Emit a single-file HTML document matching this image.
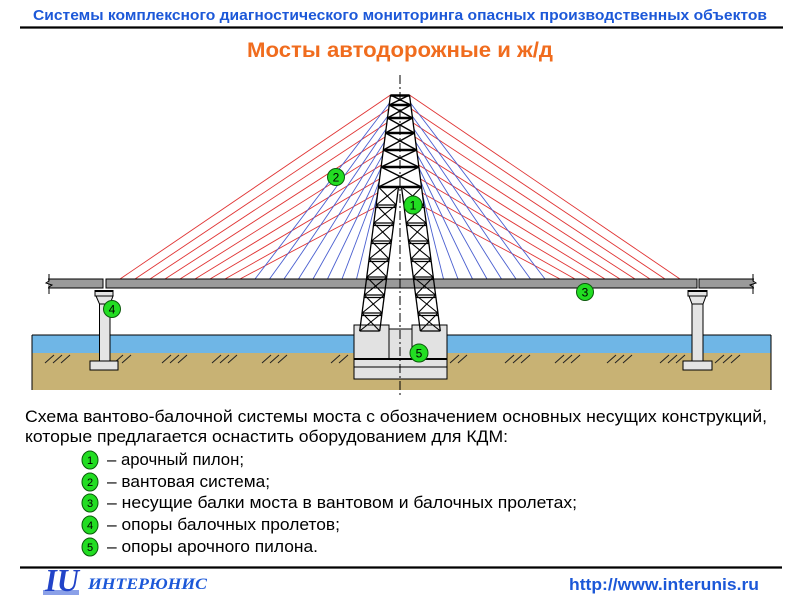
<!DOCTYPE html>
<html><head><meta charset="utf-8"><style>
html,body{margin:0;padding:0;background:#fff;width:800px;height:600px;overflow:hidden}
svg{display:block}
</style></head><body>
<svg width="800" height="600" viewBox="0 0 800 600" xmlns="http://www.w3.org/2000/svg">
<!-- header -->
<text x="33" y="20" font-family="Liberation Sans, sans-serif" font-weight="bold" font-size="14.5" fill="#1c58d8" textLength="734" lengthAdjust="spacingAndGlyphs">Системы комплексного диагностического мониторинга опасных производственных объектов</text>
<line x1="20" y1="27.5" x2="783" y2="27.5" stroke="#000" stroke-width="2.2"/>
<text x="247" y="57" font-family="Liberation Sans, sans-serif" font-weight="bold" font-size="21" fill="#f06c1e" textLength="306" lengthAdjust="spacingAndGlyphs">Мосты автодорожные и ж/д</text>

<!-- water & ground -->
<rect x="32" y="335" width="739" height="18" fill="#6fb6e6"/>
<rect x="32" y="353" width="739" height="37" fill="#c8b274"/>
<line x1="32" y1="335" x2="771" y2="335" stroke="#000" stroke-width="1"/>
<line x1="32" y1="335" x2="32" y2="390" stroke="#000" stroke-width="1"/>
<line x1="771" y1="335" x2="771" y2="390" stroke="#000" stroke-width="1"/>
<g stroke="#222" stroke-width="1">
<path d="M45,363 L54,355 M53,363 L62,355 M61,363 L70,355"/>
<path d="M114,363 L123,355 M122,363 L131,355"/>
<path d="M162,363 L171,355 M170,363 L179,355 M178,363 L187,355"/>
<path d="M212,363 L221,355 M220,363 L229,355 M228,363 L237,355"/>
<path d="M262,363 L271,355 M270,363 L279,355 M278,363 L287,355"/>
<path d="M331,363 L340,355 M339,363 L348,355"/>
<path d="M450,363 L459,355 M458,363 L467,355"/>
<path d="M505,363 L514,355 M513,363 L522,355 M521,363 L530,355"/>
<path d="M555,363 L564,355 M563,363 L572,355 M571,363 L580,355"/>
<path d="M607,363 L616,355 M615,363 L624,355 M623,363 L632,355"/>
<path d="M660,363 L669,355 M668,363 L677,355 M676,363 L685,355"/>
<path d="M715,363 L724,355 M723,363 L732,355 M731,363 L740,355"/>
</g>

<!-- foundation -->
<g fill="#e2e2e2" stroke="#000" stroke-width="1">
<rect x="354" y="359" width="93" height="20"/>
<rect x="354" y="325" width="35" height="34"/>
<rect x="412" y="325" width="35" height="34"/>
<rect x="389" y="329" width="23" height="30"/>
</g>
<line x1="354" y1="359" x2="447" y2="359" stroke="#000" stroke-width="2"/>
<line x1="354" y1="367" x2="447" y2="367" stroke="#000" stroke-width="1"/>

<!-- piers -->
<g fill="#e4e4e4" stroke="#000" stroke-width="1">
<rect x="90" y="361" width="28" height="9"/>
<rect x="99.5" y="304" width="10.5" height="57"/>
<path d="M96,296 L113,296 L110,304 L99.5,304 Z"/>
<rect x="95" y="290.5" width="18" height="5.5"/>
<rect x="683" y="361" width="29" height="9"/>
<rect x="692" y="304" width="11" height="57"/>
<path d="M689,296 L706,296 L703,304 L692,304 Z"/>
<rect x="688" y="290.5" width="19" height="5.5"/>
</g>
<line x1="95" y1="291" x2="113" y2="291" stroke="#000" stroke-width="2"/>
<line x1="688" y1="291" x2="707" y2="291" stroke="#000" stroke-width="2"/>

<!-- cables red -->
<g stroke="#e03434" stroke-width="0.9" fill="none">
<line x1="390.5" y1="95" x2="120" y2="279"/>
<line x1="388.7" y1="109" x2="135" y2="279"/>
<line x1="386.8" y1="123" x2="150" y2="279"/>
<line x1="385.0" y1="137" x2="165" y2="279"/>
<line x1="383.2" y1="151" x2="180" y2="279"/>
<line x1="381.4" y1="165" x2="195" y2="279"/>
<line x1="379.5" y1="179" x2="210" y2="279"/>
<line x1="377.7" y1="193" x2="225" y2="279"/>
<line x1="375.9" y1="207" x2="240" y2="279"/>
<line x1="409.5" y1="95" x2="680" y2="279"/>
<line x1="411.3" y1="109" x2="665" y2="279"/>
<line x1="413.2" y1="123" x2="650" y2="279"/>
<line x1="415.0" y1="137" x2="635" y2="279"/>
<line x1="416.8" y1="151" x2="620" y2="279"/>
<line x1="418.6" y1="165" x2="605" y2="279"/>
<line x1="420.5" y1="179" x2="590" y2="279"/>
<line x1="422.3" y1="193" x2="575" y2="279"/>
<line x1="424.1" y1="207" x2="560" y2="279"/>
</g>
<!-- cables blue -->
<g stroke="#4a5fd0" stroke-width="0.9" fill="none">
<line x1="389.5" y1="103" x2="255" y2="279"/>
<line x1="387.8" y1="116" x2="269.5" y2="279"/>
<line x1="386.1" y1="129" x2="284" y2="279"/>
<line x1="384.4" y1="142" x2="298.5" y2="279"/>
<line x1="382.7" y1="155" x2="313" y2="279"/>
<line x1="381.0" y1="168" x2="327.5" y2="279"/>
<line x1="379.3" y1="181" x2="342" y2="279"/>
<line x1="377.6" y1="194" x2="356.5" y2="279"/>
<line x1="410.5" y1="103" x2="545" y2="279"/>
<line x1="412.2" y1="116" x2="530.5" y2="279"/>
<line x1="413.9" y1="129" x2="516" y2="279"/>
<line x1="415.6" y1="142" x2="501.5" y2="279"/>
<line x1="417.3" y1="155" x2="487" y2="279"/>
<line x1="419.0" y1="168" x2="472.5" y2="279"/>
<line x1="420.7" y1="181" x2="458" y2="279"/>
<line x1="422.4" y1="194" x2="443.5" y2="279"/>
</g>

<!-- deck -->
<g fill="#9a9a9a" stroke="#000" stroke-width="1">
<path d="M48,279 L103,279 L103,288 L48,288"/>
<rect x="106" y="279" width="591" height="9"/>
<path d="M754,279 L699,279 L699,288 L754,288"/>
</g>
<path d="M49,274 L49,281 L46,283 L52,285 L49,287 L49,294" stroke="#000" stroke-width="1" fill="none"/>
<path d="M753,274 L753,281 L756,283 L750,285 L753,287 L753,294" stroke="#000" stroke-width="1" fill="none"/>

<!-- pylon -->
<g stroke="#000" fill="none" stroke-width="1.3">
<line x1="390.5" y1="95" x2="359.7" y2="331"/>
<line x1="409.5" y1="95" x2="440.3" y2="331"/>
<line x1="398.5" y1="187" x2="379.7" y2="331"/>
<line x1="401.5" y1="187" x2="420.3" y2="331"/>
</g>
<g stroke="#000" stroke-width="2.6">
<line x1="390.5" y1="95.5" x2="409.5" y2="95.5"/>
<line x1="389.2" y1="105" x2="410.8" y2="105"/>
<line x1="387.5" y1="118" x2="412.5" y2="118"/>
<line x1="385.5" y1="133" x2="414.5" y2="133"/>
<line x1="383.3" y1="150" x2="416.7" y2="150"/>
<line x1="381.1" y1="167" x2="418.9" y2="167"/>
<line x1="378.5" y1="187" x2="421.5" y2="187"/>
</g>
<g stroke="#000" stroke-width="1.4">
<line x1="390.5" y1="95" x2="410.8" y2="105"/><line x1="409.5" y1="95" x2="389.2" y2="105"/>
<line x1="389.2" y1="105" x2="412.5" y2="118"/><line x1="410.8" y1="105" x2="387.5" y2="118"/>
<line x1="387.5" y1="118" x2="414.5" y2="133"/><line x1="412.5" y1="118" x2="385.5" y2="133"/>
<line x1="385.5" y1="133" x2="416.7" y2="150"/><line x1="414.5" y1="133" x2="383.3" y2="150"/>
<line x1="383.3" y1="150" x2="418.9" y2="167"/><line x1="416.7" y1="150" x2="381.1" y2="167"/>
<line x1="381.1" y1="167" x2="421.5" y2="187"/><line x1="418.9" y1="167" x2="378.5" y2="187"/>
</g>
<g stroke="#000" stroke-width="1.3">
<line x1="376.2" y1="205" x2="396.2" y2="205"/><line x1="376.0" y1="207.5" x2="396.0" y2="207.5"/>
<line x1="373.8" y1="223" x2="393.8" y2="223"/><line x1="373.5" y1="225.5" x2="393.5" y2="225.5"/>
<line x1="371.5" y1="241" x2="391.5" y2="241"/><line x1="371.2" y1="243.5" x2="391.2" y2="243.5"/>
<line x1="369.1" y1="259" x2="389.1" y2="259"/><line x1="368.8" y1="261.5" x2="388.8" y2="261.5"/>
<line x1="366.8" y1="277" x2="386.8" y2="277"/><line x1="366.5" y1="279.5" x2="386.5" y2="279.5"/>
<line x1="364.4" y1="295" x2="384.4" y2="295"/><line x1="364.1" y1="297.5" x2="384.1" y2="297.5"/>
<line x1="362.1" y1="313" x2="382.1" y2="313"/><line x1="361.8" y1="315.5" x2="381.8" y2="315.5"/>
<line x1="359.7" y1="331" x2="379.7" y2="331"/>
<line x1="403.8" y1="205" x2="423.8" y2="205"/><line x1="404.0" y1="207.5" x2="424.0" y2="207.5"/>
<line x1="406.2" y1="223" x2="426.2" y2="223"/><line x1="406.5" y1="225.5" x2="426.5" y2="225.5"/>
<line x1="408.5" y1="241" x2="428.5" y2="241"/><line x1="408.8" y1="243.5" x2="428.8" y2="243.5"/>
<line x1="410.9" y1="259" x2="430.9" y2="259"/><line x1="411.2" y1="261.5" x2="431.2" y2="261.5"/>
<line x1="413.2" y1="277" x2="433.2" y2="277"/><line x1="413.5" y1="279.5" x2="433.5" y2="279.5"/>
<line x1="415.6" y1="295" x2="435.6" y2="295"/><line x1="415.9" y1="297.5" x2="435.9" y2="297.5"/>
<line x1="417.9" y1="313" x2="437.9" y2="313"/><line x1="418.2" y1="315.5" x2="438.2" y2="315.5"/>
<line x1="420.3" y1="331" x2="440.3" y2="331"/>
</g>
<g stroke="#000" stroke-width="1.1">
<line x1="378.5" y1="187" x2="396.2" y2="205"/><line x1="398.5" y1="187" x2="376.2" y2="205"/>
<line x1="376.2" y1="205" x2="393.8" y2="223"/><line x1="396.2" y1="205" x2="373.8" y2="223"/>
<line x1="373.8" y1="223" x2="391.5" y2="241"/><line x1="393.8" y1="223" x2="371.5" y2="241"/>
<line x1="371.5" y1="241" x2="389.1" y2="259"/><line x1="391.5" y1="241" x2="369.1" y2="259"/>
<line x1="369.1" y1="259" x2="386.8" y2="277"/><line x1="389.1" y1="259" x2="366.8" y2="277"/>
<line x1="366.8" y1="277" x2="384.4" y2="295"/><line x1="386.8" y1="277" x2="364.4" y2="295"/>
<line x1="364.4" y1="295" x2="382.1" y2="313"/><line x1="384.4" y1="295" x2="362.1" y2="313"/>
<line x1="362.1" y1="313" x2="379.7" y2="331"/><line x1="382.1" y1="313" x2="359.7" y2="331"/>
<line x1="421.5" y1="187" x2="403.8" y2="205"/><line x1="401.5" y1="187" x2="423.8" y2="205"/>
<line x1="423.8" y1="205" x2="406.2" y2="223"/><line x1="403.8" y1="205" x2="426.2" y2="223"/>
<line x1="426.2" y1="223" x2="408.5" y2="241"/><line x1="406.2" y1="223" x2="428.5" y2="241"/>
<line x1="428.5" y1="241" x2="410.9" y2="259"/><line x1="408.5" y1="241" x2="430.9" y2="259"/>
<line x1="430.9" y1="259" x2="413.2" y2="277"/><line x1="410.9" y1="259" x2="433.2" y2="277"/>
<line x1="433.2" y1="277" x2="415.6" y2="295"/><line x1="413.2" y1="277" x2="435.6" y2="295"/>
<line x1="435.6" y1="295" x2="417.9" y2="313"/><line x1="415.6" y1="295" x2="437.9" y2="313"/>
<line x1="437.9" y1="313" x2="420.3" y2="331"/><line x1="417.9" y1="313" x2="440.3" y2="331"/>
</g>

<!-- centerline -->
<line x1="400" y1="75" x2="400" y2="396" stroke="#000" stroke-width="1" stroke-dasharray="9,3,2,3"/>

<!-- labels on diagram -->
<g font-family="Liberation Sans, sans-serif" font-size="12" text-anchor="middle" fill="#000">
<circle cx="413" cy="205" r="9" fill="#22dd22" stroke="#0b5a0b" stroke-width="1"/><text x="413" y="209.5">1</text>
<circle cx="336" cy="177" r="8.5" fill="#22dd22" stroke="#0b5a0b" stroke-width="1"/><text x="336" y="181.5">2</text>
<circle cx="585" cy="292" r="8.5" fill="#22dd22" stroke="#0b5a0b" stroke-width="1"/><text x="585" y="296.5">3</text>
<circle cx="112" cy="309" r="8.5" fill="#22dd22" stroke="#0b5a0b" stroke-width="1"/><text x="112" y="313.5">4</text>
<circle cx="419" cy="353" r="9" fill="#22dd22" stroke="#0b5a0b" stroke-width="1"/><text x="419" y="357.5">5</text>
</g>

<!-- body text -->
<g font-family="Liberation Sans, sans-serif" font-size="17" fill="#000">
<text x="25" y="422" textLength="742" lengthAdjust="spacingAndGlyphs">Схема вантово-балочной системы моста с обозначением основных несущих конструкций,</text>
<text x="25" y="442" textLength="483" lengthAdjust="spacingAndGlyphs">которые предлагается оснастить оборудованием для КДМ:</text>
<text x="107" y="465" textLength="137" lengthAdjust="spacingAndGlyphs">– арочный пилон;</text>
<text x="107" y="487" textLength="163" lengthAdjust="spacingAndGlyphs">– вантовая система;</text>
<text x="107" y="508" textLength="470" lengthAdjust="spacingAndGlyphs">– несущие балки моста в вантовом и балочных пролетах;</text>
<text x="107" y="530" textLength="233" lengthAdjust="spacingAndGlyphs">– опоры балочных пролетов;</text>
<text x="107" y="552" textLength="211" lengthAdjust="spacingAndGlyphs">– опоры арочного пилона.</text>
</g>
<g font-family="Liberation Sans, sans-serif" font-size="11" text-anchor="middle" fill="#000">
<ellipse cx="90" cy="460" rx="8" ry="9" fill="#22dd22" stroke="#0b5a0b"/><text x="90" y="464">1</text>
<ellipse cx="90" cy="482" rx="8" ry="9" fill="#22dd22" stroke="#0b5a0b"/><text x="90" y="486">2</text>
<ellipse cx="90" cy="503" rx="8" ry="9" fill="#22dd22" stroke="#0b5a0b"/><text x="90" y="507">3</text>
<ellipse cx="90" cy="525" rx="8" ry="9" fill="#22dd22" stroke="#0b5a0b"/><text x="90" y="529">4</text>
<ellipse cx="90" cy="547" rx="8" ry="9" fill="#22dd22" stroke="#0b5a0b"/><text x="90" y="551">5</text>
</g>

<!-- footer -->
<line x1="20" y1="567.5" x2="782" y2="567.5" stroke="#000" stroke-width="2.2"/>
<rect x="43" y="590" width="36" height="5" fill="#8aa0e8"/>
<text x="45" y="591" font-family="Liberation Serif, serif" font-weight="bold" font-style="italic" font-size="32" fill="#2244c8" textLength="34" lengthAdjust="spacingAndGlyphs">IU</text>
<text x="88" y="589" font-family="Liberation Serif, serif" font-weight="bold" font-style="italic" font-size="16" fill="#1c58d8" textLength="119" lengthAdjust="spacingAndGlyphs">ИНТЕРЮНИС</text>
<text x="569" y="590" font-family="Liberation Sans, sans-serif" font-weight="bold" font-size="17" fill="#1c58d8" textLength="190" lengthAdjust="spacingAndGlyphs">http://www.interunis.ru</text>
</svg>
</body></html>
